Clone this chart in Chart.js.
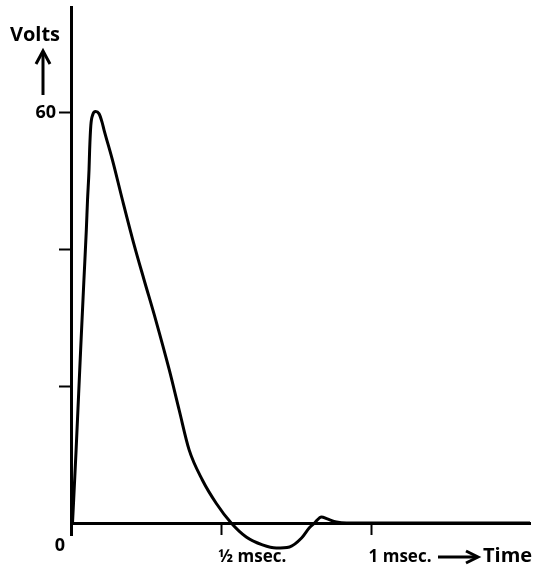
<!DOCTYPE html>
<html>
<head>
<meta charset="utf-8">
<script src="https://cdn.jsdelivr.net/npm/chart.js@4"></script>
<style>
  html, body { margin: 0; padding: 0; background: #fff; }
  #wrap { width: 534px; height: 571px; }
</style>
</head>
<body>
<div id="wrap"><canvas id="chart"></canvas></div>
<script>
// time in msec, voltage in volts
const timeMs = [0.005, 0.017, 0.032, 0.043, 0.051, 0.055, 0.060, 0.062, 0.066, 0.072, 0.082,
  0.093, 0.103, 0.110, 0.138, 0.171, 0.210, 0.243, 0.282, 0.327, 0.360, 0.393, 0.437, 0.483,
  0.533, 0.583, 0.637, 0.683, 0.727, 0.767, 0.793, 0.810, 0.833, 0.853, 0.883, 0.917, 1.527];
const volts = [0, 10.7, 25.3, 35.6, 42.9, 47.3, 51.7, 54.6, 58.2, 59.7, 60.2,
  59.9, 58.7, 57.5, 53.1, 47.3, 40.7, 35.6, 29.7, 22.4, 16.5, 10.7, 6.3, 2.9,
  0, -2.05, -3.2, -3.66, -3.5, -2.2, -0.7, 0, 0.9, 0.6, 0.15, 0, 0];

const xTicks = [0.5, 1];
const xTickLabels = ["½ msec.", "1 msec."];
const yTicks = [20, 40, 60];
const yTickLabels = ["", "", "60"];

const FONT = "'Open Sans', 'DejaVu Sans', sans-serif";

const points = timeMs.map((t, i) => ({ x: t, y: volts[i] }));

// axis captions and the little arrows
const captions = {
  id: "captions",
  afterDraw(chart) {
    const ctx = chart.ctx;
    ctx.save();
    ctx.fillStyle = "#000";
    ctx.strokeStyle = "#000";
    ctx.font = "bold 20px " + FONT;
    ctx.textAlign = "center";
    ctx.textBaseline = "middle";
    ctx.fillText("Volts", 35, 35);

    // up arrow
    ctx.lineWidth = 3;
    ctx.beginPath();
    ctx.moveTo(43, 95);
    ctx.lineTo(43, 53);
    ctx.stroke();
    ctx.beginPath();
    ctx.moveTo(36, 64);
    ctx.lineTo(43, 51);
    ctx.lineTo(50, 64);
    ctx.stroke();

    ctx.font = "bold 18px " + FONT;
    ctx.fillText("0", 60, 546);

    // right arrow
    ctx.beginPath();
    ctx.moveTo(438, 557);
    ctx.lineTo(476, 557);
    ctx.stroke();
    ctx.beginPath();
    ctx.moveTo(466, 551);
    ctx.lineTo(478, 557);
    ctx.lineTo(466, 563);
    ctx.stroke();

    ctx.font = "bold 20px " + FONT;
    ctx.textAlign = "left";
    ctx.fillText("Time", 483, 556);
    ctx.restore();
  }
};

new Chart(document.getElementById("chart"), {
  type: "scatter",
  data: {
    datasets: [{
      data: points,
      showLine: true,
      borderColor: "#000",
      borderWidth: 3,
      pointRadius: 0,
      cubicInterpolationMode: "monotone",
      clip: false
    }]
  },
  options: {
    responsive: true,
    maintainAspectRatio: false,
    animation: false,
    layout: { padding: { top: 7, right: 4, left: 0, bottom: 36 } },
    plugins: { legend: { display: false }, tooltip: { enabled: false } },
    scales: {
      x: {
        type: "linear",
        position: { y: 0 },
        min: 0,
        max: 1.527,
        afterBuildTicks: (s) => { s.ticks = xTicks.map(v => ({ value: v })); },
        border: { display: true, color: "#000", width: 3 },
        grid: { drawOnChartArea: false, drawTicks: true, tickLength: 10, tickColor: "#000", tickWidth: 2 },
        ticks: {
          color: "#000",
          font: { family: FONT, size: 17, weight: "bold" },
          align: "start",
          labelOffset: -3,
          padding: 14,
          maxRotation: 0,
          autoSkip: false,
          callback: (v) => {
            const i = xTicks.indexOf(v);
            return i >= 0 ? xTickLabels[i] : "";
          }
        }
      },
      y: {
        type: "linear",
        min: -1.75,
        max: 75.5,
        afterBuildTicks: (s) => { s.ticks = yTicks.map(v => ({ value: v })); },
        afterFit: (s) => { s.width = 71; s.paddingTop = 0; s.paddingBottom = 0; },
        border: { display: true, color: "#000", width: 3 },
        grid: { drawOnChartArea: false, drawTicks: true, tickLength: 12, tickColor: "#000", tickWidth: 2 },
        ticks: {
          color: "#000",
          font: { family: FONT, size: 18, weight: "bold" },
          padding: 3,
          autoSkip: false,
          callback: (v) => {
            const i = yTicks.indexOf(v);
            return i >= 0 ? yTickLabels[i] : "";
          }
        }
      }
    }
  },
  plugins: [captions]
});
</script>
</body>
</html>
